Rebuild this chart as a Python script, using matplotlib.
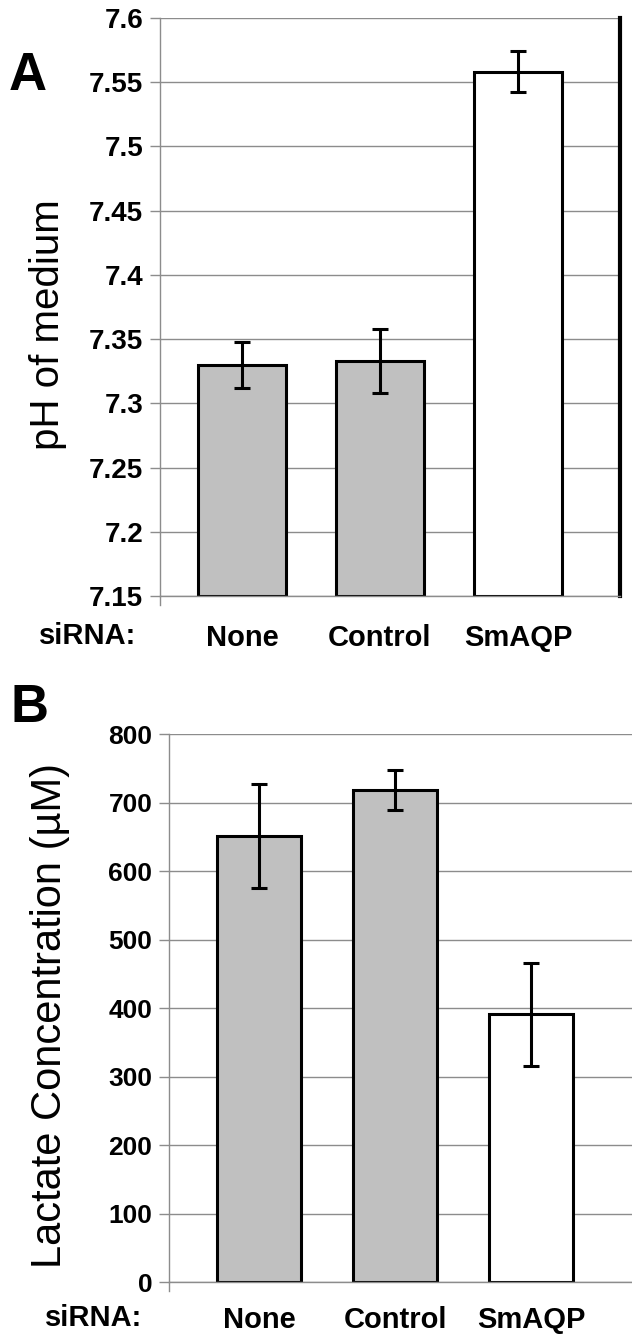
import numpy as np
import matplotlib
matplotlib.use("Agg")
import matplotlib.pyplot as plt

plt.rcParams["font.family"] = ["Liberation Sans", "DejaVu Sans"]

# données
conditions = ["None", "Control", "SmAQP"]
ph_mean = [7.330, 7.333, 7.558]
ph_err = [0.018, 0.025, 0.016]
lactate_mean = [651, 719, 391]
lactate_err = [76, 29, 75]
bar_colors = ["#c0c0c0", "#c0c0c0", "#ffffff"]
ph_ticks = [7.15, 7.2, 7.25, 7.3, 7.35, 7.4, 7.45, 7.5, 7.55, 7.6]
ph_ticklabels = ["7.15", "7.2", "7.25", "7.3", "7.35", "7.4", "7.45", "7.5", "7.55", "7.6"]
lactate_ticks = [0, 100, 200, 300, 400, 500, 600, 700, 800]

W, H = 632, 1334
fig = plt.figure(figsize=(W / 100, H / 100), dpi=100)
grid_col = "#8c8c8c"


def style_axes(ax, ticks, labels, ylim, xlim, fs, xpad):
    ax.set_ylim(*ylim)
    ax.set_xlim(*xlim)
    ax.set_yticks(ticks)
    ax.set_yticklabels(labels, fontsize=fs, fontweight="bold")
    ax.yaxis.grid(True, color=grid_col, linewidth=1.0)
    ax.set_axisbelow(True)
    ax.set_xticks(range(len(conditions)))
    ax.set_xticklabels(conditions, fontsize=21, fontweight="bold")
    ax.tick_params(axis="x", length=0, pad=xpad)
    ax.tick_params(axis="y", length=7, width=1, color=grid_col, pad=5)
    for s in ["top", "right"]:
        ax.spines[s].set_visible(False)
    for s in ["left", "bottom"]:
        ax.spines[s].set_color(grid_col)
        ax.spines[s].set_linewidth(1.0)
    # petit prolongement de l'axe vertical sous l'axe des x (style Excel)
    ax.plot([0, 0], [0, -0.016], transform=ax.transAxes, color=grid_col,
            linewidth=1.0, clip_on=False)


# ---------------- Panel A ----------------
axA = fig.add_axes([160 / W, 1 - 596 / H, 460 / W, 578 / H])
x = np.arange(len(conditions))
axA.bar(x, np.array(ph_mean) - 7.15, bottom=7.15, width=0.64,
        color=bar_colors, edgecolor="black", linewidth=2.2, zorder=2)
axA.errorbar(x, ph_mean, yerr=ph_err, fmt="none", ecolor="black",
             elinewidth=2.2, capsize=6, capthick=2.2, zorder=3)
style_axes(axA, ph_ticks, ph_ticklabels, (7.15, 7.6), (-0.594, 2.739), 20, 20)
axA.spines["right"].set_visible(True)
axA.spines["right"].set_color("black")
axA.spines["right"].set_linewidth(3)

fig.text(48 / W, 1 - 325 / H, "pH of medium", rotation=90, fontsize=29,
         ha="center", va="center")
fig.text(28 / W, 1 - 76 / H, "A", fontsize=38, fontweight="bold",
         ha="center", va="center")
fig.text(88 / W, 1 - 636 / H, "siRNA:", fontsize=21, fontweight="bold",
         ha="center", va="center")

# ---------------- Panel B ----------------
axB = fig.add_axes([169 / W, 1 - 1282 / H, 463 / W, (1282 - 734.3) / H])
axB.bar(x, lactate_mean, width=0.62, color=bar_colors, edgecolor="black",
        linewidth=2.2, zorder=2)
axB.errorbar(x, lactate_mean, yerr=lactate_err, fmt="none", ecolor="black",
             elinewidth=2.2, capsize=6, capthick=2.2, zorder=3)
style_axes(axB, lactate_ticks, [str(t) for t in lactate_ticks], (0, 800),
           (-0.66, 2.74), 19, 17)

fig.text(50 / W, 1 - 1016 / H, "Lactate Concentration (µM)", rotation=90,
         fontsize=30, ha="center", va="center")
fig.text(29 / W, 1 - 708 / H, "B", fontsize=38, fontweight="bold",
         ha="center", va="center")
fig.text(94 / W, 1 - 1318 / H, "siRNA:", fontsize=21, fontweight="bold",
         ha="center", va="center")

fig.savefig("out.png", dpi=100, facecolor="white")
plt.close(fig)
